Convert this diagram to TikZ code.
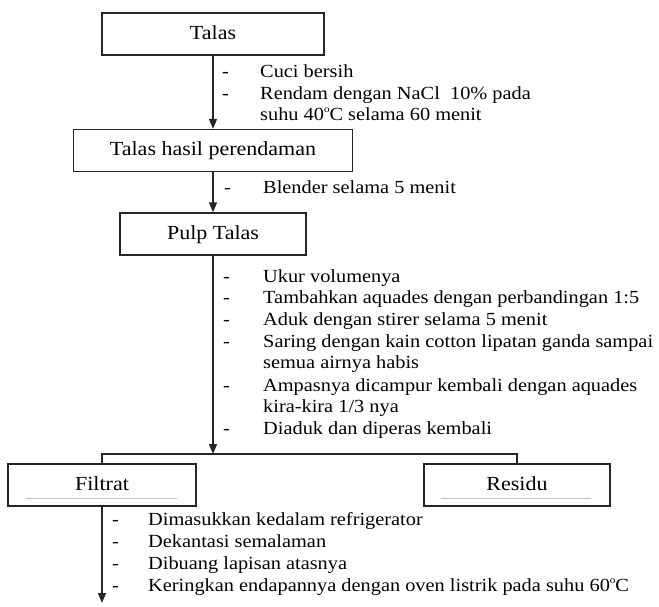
\documentclass[tikz,border=0pt]{standalone}
\usepackage{fontspec}
\setmainfont{Liberation Serif}[FakeStretch=1.1]
\usetikzlibrary{arrows.meta}
\newcommand\bxfont{\fontsize{20}{24}\selectfont}
\newcommand\itfont{\fontsize{18.5}{22}\selectfont}
\newcommand\dg{\raisebox{0.42em}{\fontsize{10}{10}\selectfont o}}
\begin{document}
\begin{tikzpicture}[x=1pt,y=-1pt,
  box/.style={draw=black!85, line width=1.3pt, minimum height=42pt, inner sep=0pt,
              font=\bxfont, text height=14pt, text depth=4pt, text=black},
  flow/.style={draw=black!85, line width=1.5pt, -{Triangle[width=8pt,length=10pt]}},
  conn/.style={draw=black!85, line width=1.3pt},
  item/.style={anchor=base west, inner sep=0pt, font=\itfont, text=black},
  uline/.style={draw=black!25, line width=0.8pt}]
\fill[white] (0,0) rectangle (659,606);
\useasboundingbox (0,0) rectangle (659,606);

% boxes
\node[box, minimum width=222pt] (talas)  at (213,34)    {Talas};
\node[box, minimum width=279pt] (hasil)  at (213,150.5) {Talas hasil perendaman};
\node[box, minimum width=186pt] (pulp)   at (213,234)   {Pulp Talas};
\node[box, minimum width=188pt] (filtrat) at (102,485)  {Filtrat};
\node[box, minimum width=186pt] (residu) at (517,485)   {Residu};

\draw[uline] ([xshift=-76pt,yshift=-13pt]filtrat.center) -- ++(151,0);
\draw[uline] ([xshift=-76pt,yshift=-13pt]residu.center) -- ++(150,0);

% connectors
\coordinate (bar) at (213,454);
\coordinate (end) at (102,603);
\draw[flow] (talas) -- (hasil);
\draw[flow] (hasil) -- (pulp);
\draw[flow] (pulp) -- (bar);
\draw[conn] (filtrat.north) |- (bar) -| (residu.north);
\draw[flow] (filtrat) -- (end);

% list 1
\node[item] (d1a) at (222,77) {-};
\node[item] (t1a) at (260,77) {Cuci bersih};
\node[item] (d1b) at (222,99) {-};
\node[item] (t1b) at (260,99) {Rendam dengan NaCl\ \ 10\% pada};
\node[item] (t1c) at (260,120) {suhu 40\dg C selama 60 menit};

% list 2
\node[item] (d2a) at (224,193) {-};
\node[item] (t2a) at (263,193) {Blender selama 5 menit};

% list 3
\node[item] (d3a) at (223,282) {-};
\node[item] (t3a) at (263,282) {Ukur volumenya};
\node[item] (d3b) at (223,303) {-};
\node[item] (t3b) at (263,303) {Tambahkan aquades dengan perbandingan 1:5};
\node[item] (d3c) at (223,325) {-};
\node[item] (t3c) at (263,325) {Aduk dengan stirer selama 5 menit};
\node[item] (d3d) at (223,347) {-};
\node[item] (t3d) at (263,347) {Saring dengan kain cotton lipatan ganda sampai};
\node[item] (t3e) at (263,368) {semua airnya habis};
\node[item] (d3f) at (223,391) {-};
\node[item] (t3f) at (263,391) {Ampasnya dicampur kembali dengan aquades};
\node[item] (t3g) at (263,412) {kira-kira 1/3 nya};
\node[item] (d3h) at (223,434) {-};
\node[item] (t3h) at (263,434) {Diaduk dan diperas kembali};

% list 4
\node[item] (d4a) at (112,525) {-};
\node[item] (t4a) at (148,525) {Dimasukkan kedalam refrigerator};
\node[item] (d4b) at (112,547) {-};
\node[item] (t4b) at (148,547) {Dekantasi semalaman};
\node[item] (d4c) at (112,569) {-};
\node[item] (t4c) at (148,569) {Dibuang lapisan atasnya};
\node[item] (d4d) at (112,591) {-};
\node[item] (t4d) at (148,591) {Keringkan endapannya dengan oven listrik pada suhu 60\dg C};
\end{tikzpicture}
\end{document}
